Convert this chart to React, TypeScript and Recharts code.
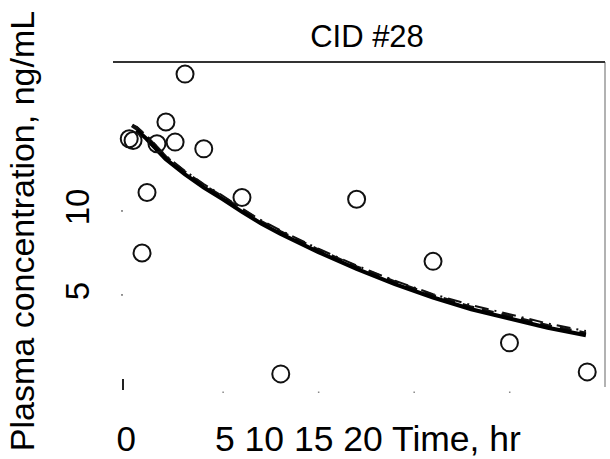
import { ComposedChart, Scatter, Line, XAxis, YAxis, ReferenceLine } from 'recharts';

// observed concentrations (hr, ng/mL)
const obsTime = [0.1, 0.3, 0.77, 1.03, 1.55, 2.02, 2.5, 3.02, 4.0, 6.0, 8.03, 12.0, 16.0, 20.0, 24.07];
const obsConc = [14.3, 14.2, 7.5, 11.1, 14.0, 15.3, 14.1, 18.15, 13.7, 10.8, 0.3, 10.7, 7.0, 2.15, 0.42];

// fitted curves
const fitTime = [0.5, 1, 2, 3, 4, 5, 6, 7, 8, 10, 12, 14, 16, 18, 20, 22, 24];
const fitSolid = [14.8, 14.3, 13.1, 12.2, 11.4, 10.7, 9.95, 9.25, 8.65, 7.55, 6.55, 5.65, 4.85, 4.15, 3.6, 3.05, 2.6];
const fitDashTime = [0.25, 0.5, 1, 2, 3, 4, 5, 6, 7, 8, 10, 12, 14, 16, 18, 20, 22, 24];
const fitDashed = [15.1, 14.9, 14.4, 13.2, 12.3, 11.5, 10.8, 10.05, 9.35, 8.75, 7.65, 6.65, 5.75, 4.95, 4.25, 3.7, 3.15, 2.7];
const fitDashDot = [15.1, 15.0, 14.5, 13.3, 12.4, 11.6, 10.9, 10.15, 9.45, 8.85, 7.75, 6.75, 5.85, 5.05, 4.4, 3.85, 3.3, 2.85];

const xTicks = [0, 5, 10, 15, 20];
const yTicks = [0, 5, 10];

const obs = obsTime.map((t, i) => ({ t, c: obsConc[i] }));
const solid = fitTime.map((t, i) => ({ t, c: fitSolid[i] }));
const dashed = fitDashTime.map((t, i) => ({ t, c: fitDashed[i] }));
const dashDot = fitDashTime.map((t, i) => ({ t, c: fitDashDot[i] }));

const FONT = 'Liberation Sans, Arial, sans-serif';

function YTick(props: any) {
  const { y, payload } = props;
  if (payload.value === 0) {
    return <line x1={123} x2={123} y1={y} y2={y + 11} stroke="#222" strokeWidth={2} />;
  }
  return (
    <g>
      <line x1={121} x2={123} y1={y} y2={y} stroke="#333" strokeWidth={1} />
      <text
        transform={`translate(89, ${y - 4}) rotate(-90)`}
        textAnchor="middle"
        fontSize={33}
        fontFamily={FONT}
        fill="#000"
      >
        {payload.value}
      </text>
    </g>
  );
}

function XTick(props: any) {
  const { x, payload } = props;
  if (payload.value === 0) {
    return (
      <text x={x - 1} y={451} textAnchor="middle" fontSize={35} fontFamily={FONT} fill="#000">
        0
      </text>
    );
  }
  return <rect x={x - 0.5} y={391.5} width={1.5} height={1.5} fill="#888" />;
}

function Dot(props: any) {
  const { cx, cy } = props;
  return <circle cx={cx} cy={cy} r={8.5} fill="none" stroke="#111" strokeWidth={2} />;
}

export default function App() {
  return (
    <div style={{ position: 'absolute', left: 0, top: 0, background: '#fff' }}>
      <ComposedChart width={610} height={459} margin={{ top: 62, right: 5, bottom: 0, left: 8 }}>
        <XAxis
          type="number"
          dataKey="t"
          domain={[-0.75, 25]}
          ticks={xTicks}
          axisLine={false}
          tickLine={false}
          tick={<XTick />}
          height={72}
          allowDataOverflow
          label={{
            content: () => (
              <text x={215} y={451} textAnchor="start" fontSize={35.5} fontFamily={FONT} fill="#000">
                5 10 15 20 Time, hr
              </text>
            ),
          }}
        />
        <YAxis
          type="number"
          dataKey="c"
          domain={[-0.48, 18.87]}
          ticks={yTicks}
          axisLine={false}
          tickLine={false}
          tick={<YTick />}
          width={105}
          allowDataOverflow
          label={{
            content: () => (
              <text
                transform="translate(34, 231) rotate(-90)"
                textAnchor="middle"
                fontSize={34}
                fontFamily={FONT}
                fill="#000"
              >
                Plasma concentration, ng/mL
              </text>
            ),
          }}
        />
        <ReferenceLine x={25} stroke="#999" strokeWidth={1.5} />
        <ReferenceLine
          y={18.87}
          stroke="#333"
          strokeWidth={2}
          label={{
            content: () => (
              <text x={367} y={47} textAnchor="middle" fontSize={31} fontFamily={FONT} fill="#000">
                CID #28
              </text>
            ),
          }}
        />
        <Line data={dashDot} dataKey="c" type="linear" stroke="#111" strokeWidth={2} strokeDasharray="14 6 2 6" dot={false} isAnimationActive={false} />
        <Line data={dashed} dataKey="c" type="linear" stroke="#111" strokeWidth={4} strokeDasharray="12 8" dot={false} isAnimationActive={false} />
        <Line data={solid} dataKey="c" type="linear" stroke="#000" strokeWidth={4} dot={false} isAnimationActive={false} />
        <Scatter data={obs} dataKey="c" shape={<Dot />} isAnimationActive={false} />
      </ComposedChart>
    </div>
  );
}
